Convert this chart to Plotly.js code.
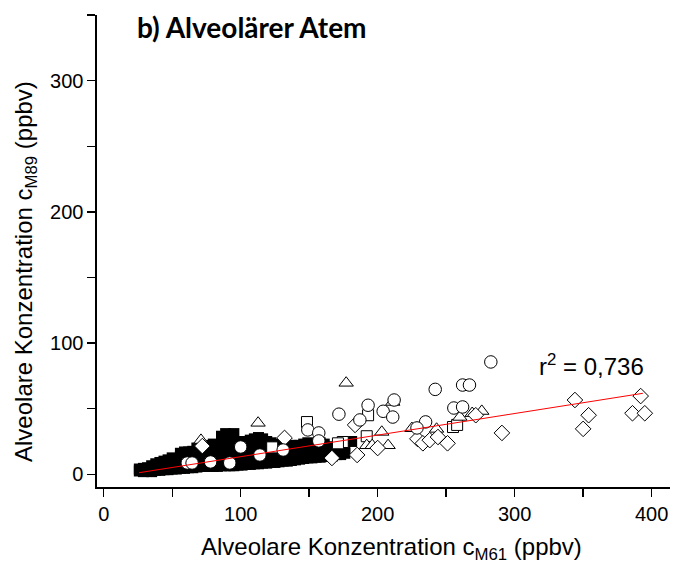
<!DOCTYPE html>
<html><head><meta charset="utf-8">
<script src="https://cdn.plot.ly/plotly-3.0.1.min.js"></script>
<style>html,body{margin:0;padding:0;background:#fff}#plot{width:683px;height:568px}</style>
</head><body><div id="plot"></div>
<script>
// Filled squares (dense cluster)
const sqFilledX = [
26,26,29,29,32,32,35,35,35,38,38,38,41,41,41,44,44,44,47,47,47,50,50,50,53,53,53,
56,56,56,56,59,59,59,59,62,62,62,62,65,65,65,65,68,68,68,68,71,71,71,71,74,74,74,74,
77,77,77,77,77,80,80,80,80,80,83,83,83,83,86,86,86,86,86,89,89,89,89,89,92,92,92,92,92,
95,95,95,95,95,98,98,98,98,101,101,101,101,104,104,104,104,107,107,107,107,110,110,110,110,
113,113,113,113,116,116,116,116,119,119,119,119,122,122,122,122,125,125,125,125,128,128,128,
131,131,131,134,134,134,137,137,137,140,140,140,143,143,143,146,146,146,149,149,149,
152,152,152,155,155,155,158,158,158,161,161,161,164,164,164,167,167,170,170,173,173,173,176,176,181];
const sqFilledY = [
2.5,4,2,4.5,2.5,5,2,4,6.5,3,5.5,8,3,6,9,3.5,7,10,3.5,7.5,11,4,8,12.5,4,8,12,
4.5,9,13.5,16,4.5,9,13,17,5,10,14.5,17,5,9.5,14,17.5,5.5,10,15,20,6,11,16,21,6,11,16,20,
6,10.5,15,20,22,6,11,16,21,23,6,12,17,22,6.5,12,17,23,29,6.5,12,18,24,31,6.5,13,19,25,30,
6.5,13,18,24,31,7,13,18,23,7,14,20,25,7.5,14,19,24,7.5,14,20,26,8,15,21,27,
8,15,22,28,8.5,15,21,27,8.5,16,21,25,9,16,22,24,9,16,21,23,9.5,16,21,
10,16,21,10,16,21,10.5,17,22,11,17,22,11.5,17,22,12,17,23,12.5,18,24,
12.5,18,23,13,18,22,13,18,24,13.5,18,23,14,18,21,14,19,15,19,15,19,23,16,20,25];
// Open circles
const circX = [61,64.5,78,92,100,114,131,149,157,157,171.7,193,187,204,212,211,242,262,267,282.6,255.6,262,235,228.7];
const circY = [8.6,8.6,9.4,8.6,20.8,14.7,18.5,33.8,31.5,25.4,45.8,52.6,41.4,48,56.6,43.6,64.7,68,68,85.6,50.5,51.3,39.9,35.3];
// Open diamonds
const diaX = [72,132,166.6,185,200,183.5,229,233,238,244,251,271.6,290.7,344,354,350,392,386,395];
const diaY = [21.5,27.7,12.4,14.7,20,37.6,27,23.6,26,28.4,23.6,45,31.5,56.6,45,34.6,59.6,46.5,46.5];
// Open triangles
const triX = [71,112.7,177,203,211,225,260,276,269,243,192,196,207.6];
const triY = [26,39.1,69.6,32.2,55,35,43.6,48.1,46.5,34.5,22,22,22];
// Open squares
const sqOpenX = [148.4,123,193,192,174.5,255,258,171];
const sqOpenY = [39.8,20.5,45,29,24.6,36,37.6,23.6];
// Regression line
const fitX = [25.8, 393.6];
const fitY = [1.2, 61.7];
const r2Label = 'r<sup>2</sup> = 0,736';
const xTicks = [0,100,200,300,400];
const yTicks = [0,100,200,300];

const SANS = "Liberation Sans";
const openMarker = (sym,size)=>({symbol:sym,size:size,color:'white',line:{color:'black',width:1}});
const data = [
  {x:sqFilledX,y:sqFilledY,mode:'markers',type:'scatter',marker:{symbol:'square',size:11,color:'black',line:{width:0}}},
  {x:sqOpenX,y:sqOpenY,mode:'markers',type:'scatter',marker:openMarker('square',11)},
  {x:triX,y:triY,mode:'markers',type:'scatter',marker:openMarker('triangle-up',12.5)},
  {x:diaX,y:diaY,mode:'markers',type:'scatter',marker:openMarker('diamond',12)},
  {x:circX,y:circY,mode:'markers',type:'scatter',marker:openMarker('circle',12.5)},
  {x:fitX,y:fitY,mode:'lines',type:'scatter',line:{color:'red',width:1}}
];
const axisCommon = {
  showline:true, linecolor:'black', linewidth:1.6, mirror:false,
  ticks:'outside', ticklen:8, tickwidth:1.4, tickcolor:'black',
  showgrid:false, zeroline:false,
  tickfont:{family:SANS, size:20, color:'black'},
  minor:{dtick:50, ticks:'outside', ticklen:8, tickwidth:1.4, tickcolor:'black', showgrid:false}
};
const layout = {
  width:683, height:568,
  margin:{l:97, r:13, t:15, b:81},
  paper_bgcolor:'white', plot_bgcolor:'white',
  font:{family:SANS, color:'black'},
  showlegend:false,
  xaxis:Object.assign({}, axisCommon, {range:[-4.9,413.4], tickvals:xTicks, ticktext:xTicks.map(String)}),
  yaxis:Object.assign({}, axisCommon, {range:[-9.7,350], tickvals:yTicks, ticktext:yTicks.map(String)}),
  annotations:[
    {xref:'paper',yref:'paper',x:0.0663,y:0.9746,xanchor:'left',yanchor:'middle',showarrow:false,
     text:'<b>b) Alveolärer Atem</b>',font:{family:'Lato',size:28,color:'black'}},
    {xref:'paper',yref:'paper',x:0.514,y:-0.13,xanchor:'center',yanchor:'middle',showarrow:false,
     text:'Alveolare Konzentration c<sub>M61</sub> (ppbv)',font:{family:SANS,size:24,color:'black'}},
    {xref:'paper',yref:'paper',x:-0.1257,y:0.4576,xanchor:'center',yanchor:'middle',showarrow:false,textangle:-90,
     text:'Alveolare Konzentration c<sub>M89</sub> (ppbv)',font:{family:SANS,size:24,color:'black'}},
    {xref:'paper',yref:'paper',x:0.768,y:0.2585,xanchor:'left',yanchor:'middle',showarrow:false,
     text:r2Label,font:{family:SANS,size:24,color:'black'}}
  ]
};
Plotly.newPlot('plot', data, layout, {displayModeBar:false, staticPlot:true});
</script>
</body></html>
